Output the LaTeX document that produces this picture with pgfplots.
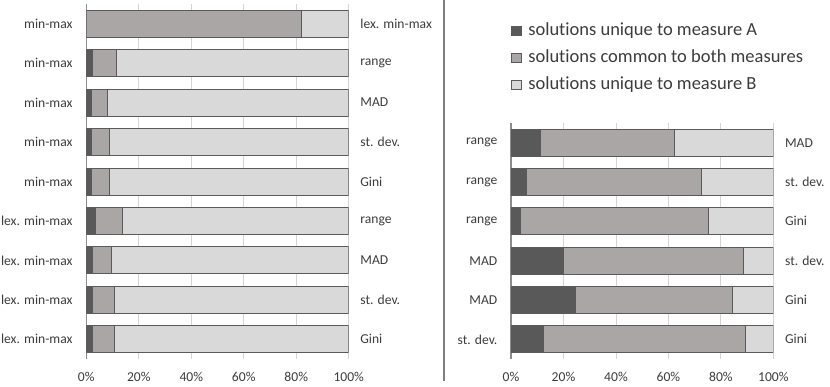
\documentclass[border=0pt]{standalone}
\usepackage{fontspec}
\setmainfont{Carlito}[Ligatures=NoCommon]
\usepackage{pgfplots}
\usepackage{pgfplotstable}
\pgfplotsset{compat=1.18}
\definecolor{cA}{HTML}{595959}
\definecolor{cC}{HTML}{AAA6A5}
\definecolor{cB}{HTML}{D9D9D9}
\definecolor{barline}{HTML}{5A5A5A}
\definecolor{gridc}{HTML}{D4D4D4}
\definecolor{axisc}{HTML}{8C8C8C}
\definecolor{txt}{HTML}{3C3C3C}

\pgfplotstableread{
row A C B
1 0.0 82.0 18.0
2 2.4 9.2 88.4
3 2.0 6.0 92.0
4 2.0 6.9 91.1
5 2.0 6.9 91.1
6 3.3 10.6 86.1
7 2.4 7.1 90.5
8 2.4 8.3 89.3
9 2.4 8.4 89.2
}\lefttable

\pgfplotstableread{
row A C B
1 11.3 51.1 37.6
2 6.0 66.7 27.3
3 3.4 72.0 24.6
4 19.9 68.7 11.4
5 24.4 60.0 15.6
6 12.3 77.2 10.5
}\righttable

\pgfplotsset{
  basechart/.style={
    scale only axis, width=262.4pt,
    xmin=0, xmax=100, y dir=reverse,
    major tick length=0pt,
    tick style={draw=none},
    font=\fontsize{13.6}{16}\selectfont,
    every tick label/.append style={text=txt},
  },
  mainchart/.style={
    basechart,
    xbar stacked, bar width=27pt,
    axis y line*=left, axis x line*=bottom,
    y axis line style={draw=axisc, line width=1.1pt},
    x axis line style={draw=none},
    xmajorgrids, grid style={draw=gridc, line width=0.9pt},
    xtick={0,20,40,60,80,100},
    xticklabels={0\%,20\%,40\%,60\%,80\%,100\%},
    xticklabel style={inner sep=0pt, yshift=-13pt},
    yticklabel style={inner sep=0pt, xshift=-13.5pt},
  },
  rightlabels/.style={
    basechart,
    hide x axis, axis y line*=right,
    y axis line style={draw=none},
    yticklabel style={inner sep=0pt, xshift=11.5pt},
  },
}

\begin{document}
\begin{tikzpicture}
\path[use as bounding box] (0,0) rectangle (830pt,-386pt);
\draw[draw=axisc!90!black, line width=1.8pt] (444pt,0pt) -- (444pt,-381pt);

% left chart
\begin{axis}[mainchart, at={(86.3pt,-4pt)}, anchor=north west, height=355pt,
  ymin=0.5, ymax=9.5, ytick={1,...,9},
  yticklabels={min-max,min-max,min-max,min-max,min-max,lex. min-max,lex. min-max,lex. min-max,lex. min-max}]
\addplot[fill=cA, draw=barline, line width=0.8pt] table[x=A, y=row] {\lefttable};
\addplot[fill=cC, draw=barline, line width=0.8pt] table[x=C, y=row] {\lefttable};
\addplot[fill=cB, draw=barline, line width=0.8pt] table[x=B, y=row] {\lefttable};
\end{axis}
\begin{axis}[rightlabels, at={(86.3pt,-4pt)}, anchor=north west, height=355pt,
  ymin=0.5, ymax=9.5, ytick={1,...,9},
  yticklabels={lex. min-max,range,MAD,st. dev.,Gini,range,MAD,st. dev.,Gini}]
\addplot[draw=none] coordinates {(0,1)};
\end{axis}

% right chart
\begin{axis}[mainchart, at={(511pt,-123pt)}, anchor=north west, height=236pt,
  ymin=0.5, ymax=6.5, ytick={1,...,6},
  yticklabels={range,range,range,MAD,MAD,st. dev.},
  legend style={at={(0pt,101pt)}, anchor=north west, draw=none, fill=none,
    inner sep=0pt, column sep=7pt, row sep=10pt,
    font=\fontsize{18.5}{22}\selectfont, text=txt,
    nodes={inner sep=0pt, text height=13pt, text depth=4pt}},
  legend cell align=left,
  legend image code/.code={\draw[#1, line width=0.6pt] (0pt,-4.75pt) rectangle (9.5pt,4.75pt);}]
\addplot[fill=cA, draw=barline, line width=0.8pt] table[x=A, y=row] {\righttable};
\addplot[fill=cC, draw=barline, line width=0.8pt] table[x=C, y=row] {\righttable};
\addplot[fill=cB, draw=barline, line width=0.8pt] table[x=B, y=row] {\righttable};
\legend{solutions unique to measure A, solutions common to both measures, solutions unique to measure B}
\end{axis}
\begin{axis}[rightlabels, at={(511pt,-123pt)}, anchor=north west, height=236pt,
  ymin=0.5, ymax=6.5, ytick={1,...,6},
  yticklabels={MAD,st. dev.,Gini,st. dev.,Gini,Gini}]
\addplot[draw=none] coordinates {(0,1)};
\end{axis}
\end{tikzpicture}
\end{document}
